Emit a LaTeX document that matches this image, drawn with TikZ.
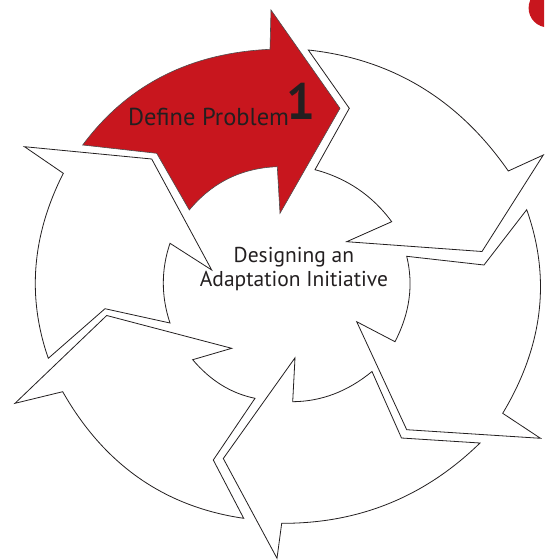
\documentclass[tikz,border=0pt]{standalone}
\usepackage{fontspec}
\setmainfont{PT Sans}
\definecolor{arrowred}{RGB}{200,22,30}
\definecolor{ink}{RGB}{35,31,32}
\begin{document}
\begin{tikzpicture}[x=1pt,y=-1pt,
  whitearrow/.style={draw=ink, line width=0.8pt, fill=white, line join=miter},
  redarrow/.style={draw=ink!80, line width=0.6pt, fill=arrowred, line join=miter},
  lbl/.style={text=ink, inner sep=0pt, outer sep=0pt}]
\useasboundingbox (0,0) rectangle (544,560);
\begin{scope}
\clip (0,0) rectangle (544,560);
\fill[arrowred] (548,8) circle[radius=19.4];
\end{scope}
% arrow 1 (red, top)
\path[redarrow] (82.7,145) .. controls (127.33,84.9) and (189.77,53.0) .. (270,49.3) -- (271,10) -- (340,108.3)
  -- (280,213.3) -- (277.3,166.7) .. controls (241.57,168.0) and (212.23,182.43) .. (189.3,210) -- (156.7,153.3) -- cycle;
% arrow 2 (top right)
\path[whitearrow] (308.3,50) -- (349.3,108.3) -- (315,169.7) .. controls (346.77,178.1) and (372.33,195.43) .. (391.7,221.7)
  -- (346.7,241.7) -- (482,251.5) -- (543.3,155) -- (508.3,171) .. controls (458.57,99.33) and (391.9,59) .. cycle;
% arrow 3 (right)
\path[whitearrow] (526.7,209.7) -- (484,265) -- (406.7,256.3) .. controls (413.67,284.77) and (409.77,313.23) .. (395,341.7)
  -- (356.7,321.7) -- (406.7,429.7) -- (540.5,438.3) -- (502.7,413.3) .. controls (543.1,346.1) and (551.1,278.23) .. cycle;
% arrow 4 (bottom)
\path[whitearrow] (480,443) -- (401.5,438) -- (372,371.5) .. controls (347.77,391.43) and (321.33,401.5) .. (292.7,401.7)
  -- (295,357.8) -- (223.3,458.5) -- (277,558.3) -- (281.7,523.3) .. controls (358.67,523.67) and (424.77,496.9) .. cycle;
% arrow 5 (bottom left)
\path[whitearrow] (243.7,518.3) -- (213.3,460) -- (255,398.3) .. controls (231.1,393.43) and (210.33,380.57) .. (192.7,359.7)
  -- (231.7,348.3) -- (106.7,315.5) -- (15,403.3) -- (62.7,391.7) .. controls (104.1,464.57) and (164.43,506.77) .. cycle;
% arrow 6 (left)
\path[whitearrow] (48.3,358.3) -- (105,308.7) -- (170,323) .. controls (161.07,296.23) and (161.07,269.67) .. (170,243.3)
  -- (211.7,270) -- (151.7,159) -- (24.5,146.7) -- (63.3,173.3) .. controls (31.9,235.23) and (26.9,296.9) .. cycle;
% labels
\node[lbl, anchor=base west, font=\fontsize{24.5}{24.5}\selectfont] (define) at (128,125) {Define Problem};
\node[lbl, anchor=base west, font=\fontsize{51}{51}\selectfont\bfseries] (one) at (286,119.5) {1};
\node[lbl, anchor=base, font=\fontsize{21.5}{21.5}\selectfont] (c1) at (293.9,262.7) {Designing an};
\node[lbl, anchor=base, font=\fontsize{21.5}{21.5}\selectfont] (c2) at (293.9,286.7) {Adaptation Initiative};
\end{tikzpicture}
\end{document}
